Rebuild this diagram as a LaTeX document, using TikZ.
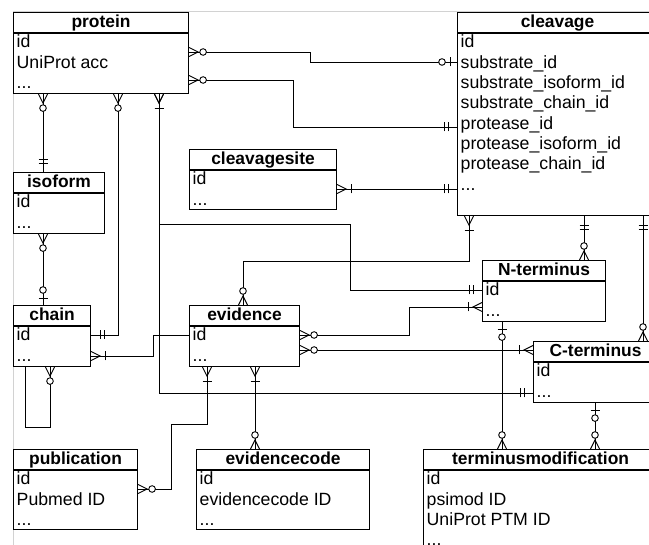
\documentclass[tikz,border=0pt]{standalone}
\usepackage{fontspec}
\setmainfont{Liberation Sans}
\usetikzlibrary{decorations.markings}

\newcommand\erMany{\draw (0pt,4.5pt) -- (9pt,0pt) -- (0pt,-4.5pt);}
\newcommand\erZM{\erMany\draw[fill=white] (14pt,0pt) circle (3.3pt);}
\newcommand\erOM{\erMany\draw (14pt,-4.5pt) -- (14pt,4.5pt);}
\newcommand\erOO{\draw (9pt,-4.5pt) -- (9pt,4.5pt) (13pt,-4.5pt) -- (13pt,4.5pt);}
\newcommand\erZO{\draw (7pt,-4.5pt) -- (7pt,4.5pt);\draw[fill=white] (15pt,0pt) circle (3.3pt);}

\tikzset{
    box/.style={draw, fill=white, line width=1.1pt, anchor=north west, inner sep=0pt},
    head/.style={draw, line width=1.1pt, anchor=north west, inner sep=0pt, minimum height=20.5,
        text height=12.6, text depth=3.6, font=\fontsize{17.4}{20}\selectfont\bfseries},
    rows/.style={anchor=north west, align=left, inner xsep=3.5, inner ysep=1.3,
        font=\fontsize{17.7}{20.3}\selectfont},
    link/.style={line width=0.9pt},
    src/.style={postaction={decorate, decoration={markings, mark=at position 0 with {#1}}}},
    dst/.style={postaction={decorate, decoration={markings,
        mark=at position 1 with {\begin{scope}[xscale=-1]#1\end{scope}}}}},
}

\begin{document}
\begin{tikzpicture}[x=1pt, y=-1pt]
            \useasboundingbox (0,0) rectangle (649,545);
            \clip (0,0) rectangle (649,545);
            \draw[gray!35, line width=0.8pt] (649,11) -- (13,11) -- (13,545);

            \node[box, minimum width=175, minimum height=81] (protein) at (13,12) {};
            \node[head, minimum width=175] (protein-t) at (protein.north west) {protein};
            \node[rows] (protein-r) at (protein-t.south west) {id\\UniProt acc\\...};

            \node[box, minimum width=200, minimum height=203] (cleavage) at (457,12) {};
            \node[head, minimum width=200] (cleavage-t) at (cleavage.north west) {cleavage};
            \node[rows] (cleavage-r) at (cleavage-t.south west) {id\\substrate\_id\\substrate\_isoform\_id\\substrate\_chain\_id\\protease\_id\\protease\_isoform\_id\\protease\_chain\_id\\...};

            \node[box, minimum width=147, minimum height=60] (site) at (189,149) {};
            \node[head, minimum width=147] (site-t) at (site.north west) {cleavagesite};
            \node[rows] (site-r) at (site-t.south west) {id\\...};

            \node[box, minimum width=91, minimum height=61] (isoform) at (13,172) {};
            \node[head, minimum width=91] (isoform-t) at (isoform.north west) {isoform};
            \node[rows] (isoform-r) at (isoform-t.south west) {id\\...};

            \node[box, minimum width=77, minimum height=61] (chain) at (13,305) {};
            \node[head, minimum width=77] (chain-t) at (chain.north west) {chain};
            \node[rows] (chain-r) at (chain-t.south west) {id\\...};

            \node[box, minimum width=110, minimum height=61] (evidence) at (189,305) {};
            \node[head, minimum width=110] (evidence-t) at (evidence.north west) {evidence};
            \node[rows] (evidence-r) at (evidence-t.south west) {id\\...};

            \node[box, minimum width=123, minimum height=61] (nterm) at (482,260) {};
            \node[head, minimum width=123] (nterm-t) at (nterm.north west) {N-terminus};
            \node[rows] (nterm-r) at (nterm-t.south west) {id\\...};

            \node[box, minimum width=124, minimum height=61] (cterm) at (533,341) {};
            \node[head, minimum width=124] (cterm-t) at (cterm.north west) {C-terminus};
            \node[rows] (cterm-r) at (cterm-t.south west) {id\\...};

            \node[box, minimum width=124, minimum height=80] (publication) at (13,449) {};
            \node[head, minimum width=124] (publication-t) at (publication.north west) {publication};
            \node[rows] (publication-r) at (publication-t.south west) {id\\Pubmed ID\\...};

            \node[box, minimum width=173, minimum height=80] (evcode) at (196,449) {};
            \node[head, minimum width=173] (evcode-t) at (evcode.north west) {evidencecode};
            \node[rows] (evcode-r) at (evcode-t.south west) {id\\evidencecode ID\\...};

            \node[box, minimum width=234, minimum height=110] (termmod) at (423,449) {};
            \node[head, minimum width=234] (termmod-t) at (termmod.north west) {terminusmodification};
            \node[rows] (termmod-r) at (termmod-t.south west) {id\\psimod ID\\UniProt PTM ID\\...};

            \draw[link, src=\erZM, dst=\erZO] (protein.east |- 0,52) -| (310,62) -- (cleavage.west |- 0,62);
            \draw[link, src=\erZM, dst=\erOO] (protein.east |- 0,80) -| (293,127) -- (cleavage.west |- 0,127);
            \draw[link, src=\erOM, dst=\erOO] (site.east |- 0,189) -- (cleavage.west |- 0,189);
            \draw[link, src=\erZM, dst=\erOO] (protein.south -| 43,0) -- (isoform.north -| 43,0);
            \draw[link, src=\erZM, dst=\erZO] (isoform.south -| 43,0) -- (chain.north -| 43,0);
            \draw[link, src=\erZM, dst=\erOO] (protein.south -| 118,0) |- (chain.east |- 0,335);
            \draw[link, dst=\erZM] (chain.south -| 25,0) |- (50,427) -- (chain.south -| 50,0);
            \draw[link, src=\erOM, dst=\erOO] (protein.south -| 159,0) |- (350,224) |- (nterm.west |- 0,290);
            \draw[link, src=\erOM, dst=\erOO] (protein.south -| 159,0) |- (cterm.west |- 0,393);
            \draw[link, src=\erOM] (chain.east |- 0,356) -| (153,335) -- (evidence.west |- 0,335);
            \draw[link, src=\erOM, dst=\erZM] (cleavage.south -| 469,0) |- (243,261) -- (evidence.north -| 243,0);
            \draw[link, src=\erZM, dst=\erOM] (evidence.east |- 0,335) -| (409,307) -- (nterm.west |- 0,307);
            \draw[link, src=\erZM, dst=\erOM] (evidence.east |- 0,350) -- (cterm.west |- 0,350);
            \draw[link, src=\erOO, dst=\erZM] (cleavage.south -| 584,0) -- (nterm.north -| 584,0);
            \draw[link, src=\erOO, dst=\erZM] (cleavage.south -| 643,0) -- (cterm.north -| 643,0);
            \draw[link, src=\erZO, dst=\erZM] (nterm.south -| 502,0) -- (termmod.north -| 502,0);
            \draw[link, src=\erZO, dst=\erZM] (cterm.south -| 595,0) -- (termmod.north -| 595,0);
            \draw[link, src=\erOM, dst=\erZM] (evidence.south -| 207,0) |- (171,424) |- (publication.east |- 0,489);
            \draw[link, src=\erOM, dst=\erZM] (evidence.south -| 255,0) -- (evcode.north -| 255,0);
        \end{tikzpicture}
\end{document}
